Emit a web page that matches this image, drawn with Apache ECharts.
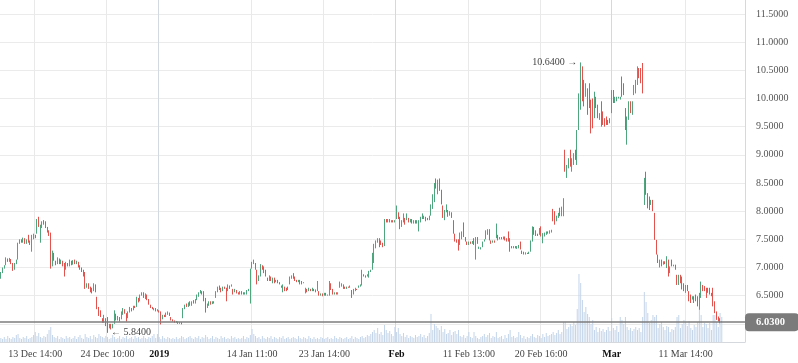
<!DOCTYPE html>
<html><head><meta charset="utf-8">
<script src="https://cdn.jsdelivr.net/npm/echarts@6/dist/echarts.min.js"></script>
<style>html,body{margin:0;padding:0;background:#fff}#c{width:798px;height:363px}</style>
</head><body><div id="c"></div>
<script>
const opens = [
6.80,6.90,6.98,7.04,7.16,7.10,7.15,7.08,6.96,7.06,
7.14,7.42,7.50,7.44,7.52,7.42,7.58,7.48,7.28,7.50,
7.58,7.60,7.90,7.44,7.70,7.84,7.82,7.72,7.66,7.62,
7.02,7.26,7.12,7.06,7.16,7.06,7.12,7.08,6.96,7.08,
7.02,7.12,7.05,7.14,7.06,7.10,7.04,7.00,6.96,6.92,
6.64,6.72,6.66,6.64,6.58,6.70,6.48,6.30,6.24,6.10,
6.02,6.10,6.12,5.92,6.00,5.92,6.00,6.18,6.06,6.12,
6.08,6.16,6.26,6.19,6.10,6.20,6.28,6.24,6.32,6.30,
6.46,6.40,6.50,6.56,6.44,6.52,6.44,6.34,6.30,6.24,
6.28,6.22,6.24,6.22,6.08,6.16,6.12,6.16,6.20,6.12,
6.08,6.06,6.02,6.04,6.00,6.03,6.10,6.26,6.36,6.30,
6.40,6.32,6.42,6.36,6.42,6.48,6.54,6.58,6.58,6.46,
6.28,6.32,6.40,6.35,6.40,6.46,6.56,6.68,6.64,6.58,
6.66,6.64,6.58,6.68,6.66,6.62,6.56,6.60,6.56,6.52,
6.58,6.56,6.52,6.52,6.58,6.36,6.98,7.06,7.08,6.96,
6.76,6.84,7.04,7.02,6.96,6.82,6.76,6.84,6.72,6.82,
6.74,6.78,6.74,6.68,6.56,6.66,6.64,6.66,6.70,6.80,
6.90,6.84,6.78,6.74,6.78,6.76,6.72,6.54,6.62,6.58,
6.62,6.58,6.62,6.61,6.58,6.58,6.50,6.54,6.50,6.55,
6.50,6.50,6.72,6.62,6.52,6.56,6.52,6.64,6.66,6.70,
6.66,6.62,6.66,6.64,6.60,6.52,6.58,6.62,6.64,6.66,
6.68,6.88,6.86,6.84,6.82,6.92,6.96,7.08,7.34,7.44,
7.52,7.48,7.44,7.38,7.86,7.80,7.86,7.80,7.84,7.80,
7.86,7.98,7.90,7.72,7.80,7.88,7.84,7.88,7.80,7.86,
7.78,7.84,7.78,7.64,7.80,7.86,7.86,7.90,7.88,7.84,
7.92,8.04,8.16,8.58,8.30,8.58,8.38,8.10,7.84,7.98,
8.02,7.92,7.98,7.84,7.60,7.50,7.50,7.40,7.50,7.80,
7.54,7.46,7.40,7.46,7.42,7.52,7.14,7.54,7.33,7.32,
7.36,7.46,7.50,7.58,7.68,7.48,7.44,7.48,7.52,7.58,
7.50,7.54,7.50,7.55,7.52,7.64,7.52,7.38,7.34,7.38,
7.33,7.34,7.46,7.30,7.28,7.23,7.26,7.24,7.28,7.46,
7.72,7.66,7.60,7.58,7.73,7.43,7.55,7.58,7.64,7.60,
7.62,8.04,8.00,7.82,7.88,8.06,7.91,7.91,9.09,8.59,
8.76,9.09,8.70,8.82,9.09,8.82,9.44,9.80,10.57,10.33,
10.03,10.18,10.27,9.98,10.00,9.65,10.03,9.89,9.62,9.95,
9.77,9.65,9.68,9.62,9.65,9.74,10.15,9.92,9.95,10.00,
9.98,10.39,10.27,9.83,9.18,9.62,9.95,9.71,10.06,10.09,
10.24,10.54,10.54,10.63,8.11,8.70,8.32,8.26,8.11,8.20,
7.97,7.49,7.23,7.00,7.14,7.05,7.11,6.99,7.14,6.90,
7.14,7.02,7.05,6.87,6.69,6.87,6.84,6.72,6.55,6.69,
6.58,6.52,6.43,6.49,6.52,6.49,6.25,6.46,6.69,6.67,
6.64,6.64,6.64,6.55,6.64,6.40,6.22,6.13,6.10,6.04
];
const closes = [
6.92,7.00,7.04,7.18,7.10,7.17,7.06,6.94,7.08,7.14,
7.44,7.50,7.44,7.53,7.42,7.50,7.44,7.40,7.58,7.60,
7.52,7.86,7.72,7.76,7.82,7.76,7.70,7.62,7.56,6.98,
7.30,7.12,7.04,7.18,7.06,7.14,7.02,6.84,7.10,7.02,
7.14,7.04,7.13,7.06,7.12,7.00,6.96,6.92,6.84,6.62,
6.72,6.62,6.56,6.54,6.72,6.56,6.26,6.14,6.12,6.02,
6.16,5.96,5.84,6.00,5.90,6.00,6.24,6.06,6.14,6.04,
6.22,6.28,6.18,6.04,6.22,6.30,6.22,6.32,6.28,6.48,
6.38,6.52,6.56,6.46,6.54,6.42,6.34,6.28,6.26,6.28,
6.22,6.26,6.20,5.99,6.16,6.12,6.20,6.22,6.14,6.06,
6.04,6.02,6.05,6.00,6.03,5.99,6.28,6.34,6.30,6.38,
6.32,6.40,6.36,6.44,6.52,6.56,6.60,6.52,6.40,6.20,
6.36,6.40,6.34,6.40,6.36,6.58,6.66,6.60,6.56,6.66,
6.62,6.40,6.70,6.62,6.70,6.52,6.62,6.54,6.52,6.58,
6.52,6.52,6.56,6.60,6.62,6.98,7.10,7.14,6.96,6.70,
6.86,7.06,6.96,6.90,6.84,6.76,6.86,6.76,6.82,6.72,
6.78,6.72,6.70,6.64,6.70,6.58,6.58,6.60,6.84,6.86,
6.80,6.76,6.74,6.78,6.70,6.70,6.74,6.64,6.56,6.64,
6.58,6.64,6.58,6.56,6.76,6.50,6.54,6.49,6.55,6.50,
6.52,6.76,6.60,6.52,6.56,6.52,6.56,6.75,6.72,6.62,
6.62,6.66,6.64,6.68,6.46,6.62,6.64,6.60,6.68,6.70,
6.96,6.84,6.82,6.88,6.94,6.96,7.26,7.42,7.48,7.52,
7.36,7.40,7.36,7.86,7.80,7.86,7.80,7.84,7.80,7.84,
8.10,7.86,7.68,7.84,7.96,7.76,7.96,7.80,7.86,7.78,
7.84,7.78,7.84,7.84,7.90,7.96,7.92,7.82,7.84,7.92,
8.12,8.30,8.50,8.40,8.56,8.36,8.12,7.88,8.02,8.12,
7.90,8.00,7.88,7.60,7.46,7.44,7.30,7.62,7.64,7.54,
7.46,7.40,7.46,7.42,7.47,7.40,7.54,7.42,7.37,7.36,
7.46,7.50,7.66,7.68,7.48,7.42,7.48,7.44,7.78,7.48,
7.54,7.50,7.55,7.48,7.46,7.46,7.28,7.34,7.38,7.34,
7.38,7.40,7.32,7.24,7.23,7.27,7.24,7.28,7.48,7.73,
7.58,7.56,7.56,7.70,7.55,7.61,7.62,7.64,7.60,7.66,
7.67,7.82,7.76,7.92,7.97,7.91,8.08,8.23,8.70,8.82,
8.94,8.79,8.94,9.03,8.91,9.44,10.09,10.64,9.95,9.86,
10.27,9.71,9.83,9.38,9.47,10.12,9.83,9.65,9.74,9.50,
9.53,9.50,9.53,9.53,9.56,10.15,9.92,10.03,10.03,10.03,
10.03,10.03,10.06,9.44,9.68,9.95,9.74,9.95,10.24,10.33,
10.57,10.36,10.27,10.09,8.59,8.29,8.05,8.02,8.20,8.00,
7.49,7.23,7.08,7.14,7.02,7.11,7.06,7.20,6.84,7.02,
7.02,7.05,6.96,6.69,6.87,6.72,6.61,6.58,6.69,6.58,
6.40,6.37,6.49,6.37,6.40,6.31,6.55,6.75,6.58,6.58,
6.46,6.55,6.52,6.49,6.31,6.19,6.07,6.04,6.01,6.03
];
const volumes = [
4,3,5,3,6,4,3,5,4,7, 8,4,3,5,4,6,3,4,5,7, 10,6,9,5,4,6,5,8,12,15,
7,5,4,6,3,5,4,3,6,4, 5,3,4,6,3,5,7,4,3,8, 5,4,6,3,7,5,4,8,6,5,
4,6,5,3,4,7,5,3,4,6, 3,5,4,6,3,4,5,3,6,4, 5,3,4,6,4,3,5,4,6,8,
4,8,5,3,6,4,3,5,4,3, 4,3,5,3,4,6,5,3,4,5, 6,4,3,5,4,6,3,5,4,7,
5,3,4,6,3,5,4,3,6,4, 5,3,4,3,6,4,5,3,4,3, 4,6,3,5,4,7,13,8,6,4,
5,3,6,4,3,5,4,6,3,5, 4,3,5,4,6,3,4,5,3,4, 5,4,3,6,4,3,5,4,3,6,
4,3,5,3,4,3,5,4,3,4, 5,3,4,3,6,4,3,5,4,3, 4,5,3,4,6,3,5,4,3,5,
6,4,5,7,6,8,10,12,9,14, 8,10,7,17,12,9,11,8,6,15, 10,14,8,6,9,5,7,4,6,5,
4,7,5,6,8,5,7,4,6,9, 28,12,18,16,14,12,16,10,13,8, 9,12,7,10,11,8,12,6,5,7,
4,6,10,5,4,10,6,4,3,5, 6,8,5,7,9,4,6,5,10,4, 5,6,3,7,4,8,12,5,6,4,
5,10,7,4,6,3,5,4,6,8, 5,4,7,6,4,8,5,9,6,7, 8,10,7,9,12,8,10,20,20,13,
15,18,16,20,17,33,68,59,42,30, 35,28,25,18,22,12,15,10,14,11, 13,10,12,15,11,24,14,12,16,10,
25,22,18,25,15,12,14,11,13,15, 12,14,10,25,50,40,29,19,22,27, 25,27,14,18,20,15,12,16,15,10,
13,12,15,25,27,14,18,22,20,16, 21,14,12,17,15,20,35,27,15,19, 18,14,19,12,27,27,20,15,29,25
];
const tickIndex = [20, 62, 92, 146, 188, 230, 272, 314, 355, 398];
const tickText = ['13 Dec 14:00','24 Dec 10:00','2019','14 Jan 11:00','23 Jan 14:00','Feb','11 Feb 13:00','20 Feb 16:00','Mar','11 Mar 14:00'];
const tickBold = [false,false,true,false,false,true,false,false,true,false];
const lastPrice = 6.03;
const highIndex = 337, highValue = 10.64;
const lowIndex = 62, lowValue = 5.84;
const priceMin = 5.5, priceMax = 11.748, priceStep = 0.5;
const TOTAL = 433;

const FONT = 'Liberation Serif';
const UP = '#4fa67e', DOWN = '#e3524d';
const categories = Array.from({length: TOTAL}, (_, i) => String(i));
const candles = opens.map((o, i) => { const c = closes[i]; return [o, c, Math.min(o, c), Math.max(o, c)]; });
const isTick = (idx) => tickIndex.indexOf(idx) >= 0;

const chart = echarts.init(document.getElementById('c'), null, {renderer: 'canvas'});
chart.setOption({
  animation: false,
  backgroundColor: '#ffffff',
  grid: [
    {left: 0, right: 53, top: 0, bottom: 11},
    {left: 0, right: 53, top: 0, bottom: 21}
  ],
  xAxis: [
    {type: 'category', gridIndex: 0, data: categories, boundaryGap: true, show: false},
    {type: 'category', gridIndex: 1, data: categories, boundaryGap: true,
      axisLine: {show: true, lineStyle: {color: '#d5d8dc', width: 1}},
      axisTick: {show: false},
      axisLabel: {
        interval: (idx) => isTick(idx),
        formatter: (val) => { const k = tickIndex.indexOf(Number(val)); if (k < 0) return ''; return tickBold[k] ? '{b|' + tickText[k] + '}' : tickText[k]; },
        color: '#444', fontFamily: FONT, fontSize: 10, margin: 7,
        rich: {b: {fontWeight: 'bold', color: '#111', fontFamily: FONT, fontSize: 10}}
      },
      splitLine: {show: true, interval: (idx) => isTick(idx),
        lineStyle: {color: tickBold.map(b => b ? '#d3d9e1' : '#e9e9e9'), width: 1}}
    }
  ],
  yAxis: [
    {type: 'value', gridIndex: 0, position: 'right', min: priceMin, max: priceMax, interval: priceStep,
      axisLine: {show: false}, axisTick: {show: false},
      axisLabel: {formatter: (v) => v.toFixed(4), color: '#555', fontFamily: FONT, fontSize: 10, margin: 11, showMinLabel: false, showMaxLabel: false},
      splitLine: {show: true, showMinLine: false, showMaxLine: false, lineStyle: {color: '#ebebeb', width: 1}}
    },
    {type: 'value', gridIndex: 1, position: 'right', min: 0, max: 342,
      axisLine: {show: true, lineStyle: {color: '#d5d8dc', width: 1}},
      axisTick: {show: false}, axisLabel: {show: false}, splitLine: {show: false}
    }
  ],
  series: [
    {type: 'bar', xAxisIndex: 1, yAxisIndex: 1, data: volumes, barWidth: 1,
      itemStyle: {color: '#c4d5ea'}, z: 1},
    {type: 'candlestick', xAxisIndex: 0, yAxisIndex: 0, data: candles, barWidth: 0.6, z: 3,
      itemStyle: {color: UP, color0: DOWN, borderColor: UP, borderColor0: DOWN, borderWidth: 1},
      markLine: {silent: true, symbol: ['none', 'none'], animation: false,
        data: [{yAxis: lastPrice}],
        lineStyle: {color: '#7d7d7d', width: 1.5, type: 'solid'},
        label: {show: true, position: 'end', distance: 0, formatter: lastPrice.toFixed(4),
          backgroundColor: '#7b7b7b', color: '#fff', fontWeight: 'bold', fontFamily: FONT, fontSize: 10.5,
          padding: [4, 14, 3, 11], borderRadius: 4}
      },
      markPoint: {silent: true, symbol: 'circle', symbolSize: 1, itemStyle: {color: 'rgba(0,0,0,0)'},
        data: [
          {coord: [highIndex, highValue], label: {show: true, position: 'left', distance: 3, formatter: highValue.toFixed(4) + ' \u2192', color: '#444', fontFamily: FONT, fontSize: 10}},
          {coord: [lowIndex, lowValue], label: {show: true, position: 'right', distance: 3, formatter: '\u2190 ' + lowValue.toFixed(4), color: '#444', fontFamily: FONT, fontSize: 10}}
        ]
      }
    }
  ]
});
</script>
</body></html>
